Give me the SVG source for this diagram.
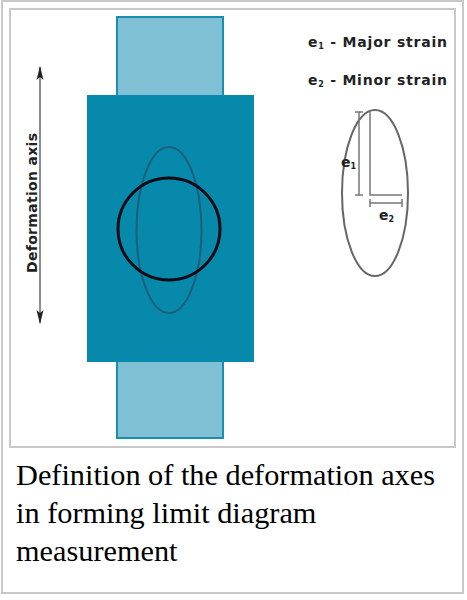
<svg xmlns="http://www.w3.org/2000/svg" width="467" height="600" viewBox="0 0 467 600">
<style>
.frame{fill:none;stroke:#c8c8c8;stroke-width:2}
.light{fill:#7fc0d4;stroke:#1a8db1;stroke-width:2}
.dark{fill:#0789ab}
.lbl{font-family:"DejaVu Sans",sans-serif;font-weight:bold;font-size:14px;fill:#222}
.cap{font-family:"Liberation Serif",serif;font-size:30.3px;fill:#000}
.dim{stroke:#777;stroke-width:1.5;fill:none}
</style>
<defs>
<marker id="ah" viewBox="0 0 14 8" refX="13" refY="4" markerWidth="14" markerHeight="8" orient="auto-start-reverse" markerUnits="userSpaceOnUse">
<path d="M0,0.5 L14,4 L0,7.5 L3,4 Z" fill="#222"/>
</marker>
</defs>
<rect class="frame" x="2" y="1" width="461" height="592"/>
<rect class="frame" x="10" y="9" width="445" height="438"/>
<g id="top-strip"><rect class="light" x="117" y="17" width="106" height="80"/></g>
<g id="bottom-strip"><rect class="light" x="117" y="360" width="106" height="78"/></g>
<g id="specimen"><rect class="dark" x="87" y="95" width="167" height="267"/></g>
<g id="deformed-ellipse"><ellipse cx="169" cy="230" rx="32.5" ry="83" fill="none" stroke="#1b5f7c" stroke-width="2"/></g>
<g id="circle"><circle cx="169" cy="229" r="51" fill="none" stroke="#0a0a14" stroke-width="3"/></g>
<g id="connectors">
<line x1="40" y1="67" x2="40" y2="323" stroke="#666" stroke-width="1.5" marker-start="url(#ah)" marker-end="url(#ah)"/>
</g>
<g id="axis-label"><text class="lbl" transform="translate(37,203) rotate(-90)" text-anchor="middle" textLength="140" lengthAdjust="spacing">Deformation axis</text></g>
<g id="legend">
<text class="lbl" x="308" y="47" textLength="139" lengthAdjust="spacing">e<tspan font-size="8" dy="2">1</tspan><tspan dy="-2"> - Major strain</tspan></text>
<text class="lbl" x="308" y="85" textLength="139" lengthAdjust="spacing">e<tspan font-size="8" dy="2">2</tspan><tspan dy="-2"> - Minor strain</tspan></text>
</g>
<g id="strain-ellipse">
<ellipse cx="375" cy="193" rx="33" ry="83" fill="none" stroke="#666" stroke-width="2"/>
<path class="dim" d="M359,112 V195 M355,112 H363 M355,195 H363"/>
<path class="dim" d="M370,110 V195 H402"/>
<path class="dim" d="M370,203 H402 M370,199 V207 M402,199 V207"/>
<text class="lbl" x="341" y="167">e<tspan font-size="8" dy="2">1</tspan></text>
<text class="lbl" x="379" y="220">e<tspan font-size="8" dy="2">2</tspan></text>
</g>
<g id="caption">
<text class="cap" x="16" y="485">Definition of the deformation axes</text>
<text class="cap" x="16" y="523">in forming limit diagram</text>
<text class="cap" x="16" y="561">measurement</text>
</g>
</svg>
